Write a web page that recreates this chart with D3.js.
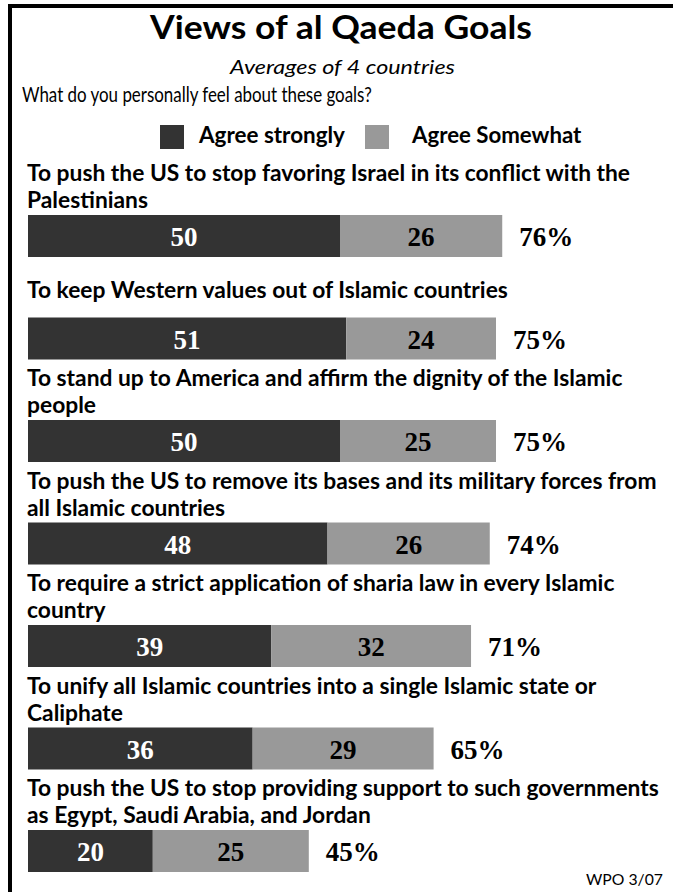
<!DOCTYPE html>
<html>
<head>
<meta charset="utf-8">
<script src="https://cdn.jsdelivr.net/npm/d3@7"></script>
<style>
  html, body { margin: 0; padding: 0; background: #fff; }
  svg { display: block; }
</style>
</head>
<body>
<svg id="chart" width="673" height="892"></svg>
<script>
// ---------------- data ----------------
const title = "Views of al Qaeda Goals";
const subtitle = "Averages of 4 countries";
const question = "What do you personally feel about these goals?";
const seriesNames = ["Agree strongly", "Agree Somewhat"];
const categories = [
  ["To push the US to stop favoring Israel in its conflict with the", "Palestinians"],
  ["To keep Western values out of Islamic countries"],
  ["To stand up to America and affirm the dignity of the Islamic", "people"],
  ["To push the US to remove its bases and its military forces from", "all Islamic countries"],
  ["To require a strict application of sharia law in every Islamic", "country"],
  ["To unify all Islamic countries into a single Islamic state or", "Caliphate"],
  ["To push the US to stop providing support to such governments", "as Egypt, Saudi Arabia, and Jordan"]
];
const agreeStrongly = [50, 51, 50, 48, 39, 36, 20];
const agreeSomewhat = [26, 24, 25, 26, 32, 29, 25];
const totals = [76, 75, 75, 74, 71, 65, 45];
const source = "WPO 3/07";

// ---------------- style ----------------
const W = 673, H = 892;
const colors = ["#333333", "#999999"];
const sansFont = "Lato, 'DejaVu Sans', sans-serif";
const serifFont = "'Liberation Serif', 'DejaVu Serif', serif";

const svg = d3.select("#chart");

// place a text horizontally condensed to a target width (the original face is a narrow sans)
function condensedText(parent, x, y, str, opts, targetWidth, anchor) {
  const g = parent.append("g").attr("transform", `translate(${x},${y})`);
  const t = g.append("text").attr("x", 0).attr("y", 0)
    .attr("font-family", opts.family || sansFont)
    .attr("font-size", opts.size)
    .attr("font-weight", opts.weight || "normal")
    .attr("font-style", opts.style || "normal")
    .attr("text-anchor", anchor || "start")
    .attr("fill", "#000").text(str);
  const w = t.node().getComputedTextLength();
  const sx = targetWidth / w;
  t.attr("transform", `scale(${sx},1)`);
  return sx;
}

// frame: top and left rules
svg.append("line").attr("x1", 8).attr("x2", W).attr("y1", 6).attr("y2", 6)
  .attr("stroke", "#000").attr("stroke-width", 4);
svg.append("line").attr("x1", 10).attr("x2", 10).attr("y1", 4).attr("y2", H)
  .attr("stroke", "#000").attr("stroke-width", 4);

// header
condensedText(svg, 341, 38.5, title, { size: 33, weight: "bold" }, 382, "middle");
condensedText(svg, 342.5, 74, subtitle, { size: 19, style: "italic" }, 225, "middle");
condensedText(svg, 22, 101.7, question, { size: 21 }, 350, "start");

// scales
const x = d3.scaleLinear().domain([0, 100]).range([28, 652]);
const y = d3.scaleBand().domain(d3.range(categories.length))
  .range([215, 872]).paddingInner(1 - 42 / 102.5).paddingOuter(0).align(0);

// legend
const legendX = [160, 365];
const legendTextX = [199, 412];
const legendW = [146, 169.5];
seriesNames.forEach((name, i) => {
  svg.append("rect").attr("x", legendX[i]).attr("y", 125).attr("width", 24).attr("height", 24)
    .attr("fill", colors[i]);
  condensedText(svg, legendTextX[i], 143.3, name, { size: 22, weight: "bold" }, legendW[i], "start");
});

// category labels: common horizontal condensation, measured on the longest line
const labelFs = 22.8;
const probe = svg.append("text").attr("font-family", sansFont).attr("font-weight", "bold")
  .attr("font-size", labelFs).text(categories[6][0]);
const labelSx = 632 / probe.node().getComputedTextLength();
probe.remove();

const lineGap = 27.5;
const labels = svg.append("g");
categories.forEach((lines, i) => {
  const top = y(i);
  const firstBase = lines.length === 1 ? top - 19.5 : top - 34;
  const g = labels.append("g").attr("transform", `translate(27,${firstBase})`);
  const txt = g.append("text").attr("font-family", sansFont).attr("font-weight", "bold")
    .attr("font-size", labelFs).attr("fill", "#000").attr("transform", `scale(${labelSx},1)`);
  lines.forEach((ln, j) => {
    txt.append("tspan").attr("x", 0).attr("y", j * lineGap).text(ln);
  });
});

// bars
const rows = categories.map((c, i) => ({ i, a: agreeStrongly[i], b: agreeSomewhat[i], t: totals[i] }));
const bars = svg.append("g").selectAll("g").data(rows).join("g");

bars.append("rect").attr("x", x(0)).attr("y", d => y(d.i))
  .attr("width", d => x(d.a) - x(0)).attr("height", y.bandwidth()).attr("fill", colors[0]);
bars.append("rect").attr("x", d => x(d.a)).attr("y", d => y(d.i))
  .attr("width", d => x(d.a + d.b) - x(d.a)).attr("height", y.bandwidth()).attr("fill", colors[1]);

const numFs = 27;
const numDy = 10;
bars.append("text").attr("x", d => (x(0) + x(d.a)) / 2).attr("y", d => y(d.i) + y.bandwidth() / 2 + numDy)
  .attr("text-anchor", "middle").attr("font-family", serifFont).attr("font-weight", "bold")
  .attr("font-size", numFs).attr("fill", "#fff").text(d => d.a);
bars.append("text").attr("x", d => (x(d.a) + x(d.a + d.b)) / 2).attr("y", d => y(d.i) + y.bandwidth() / 2 + numDy)
  .attr("text-anchor", "middle").attr("font-family", serifFont).attr("font-weight", "bold")
  .attr("font-size", numFs).attr("fill", "#000").text(d => d.b);
bars.append("text").attr("x", d => x(d.a + d.b) + 17).attr("y", d => y(d.i) + y.bandwidth() / 2 + numDy)
  .attr("font-family", serifFont).attr("font-weight", "bold")
  .attr("font-size", numFs).attr("fill", "#000").text(d => d.t + "%");

// source
condensedText(svg, 663, 885, source, { size: 15.5 }, 77, "end");
</script>
</body>
</html>
